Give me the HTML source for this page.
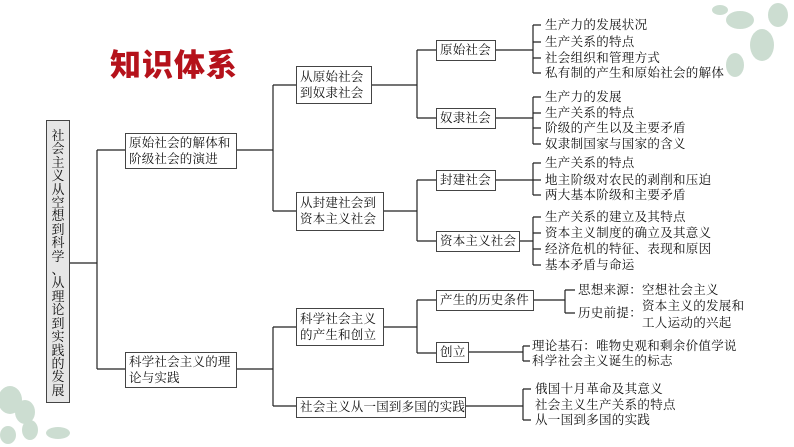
<!DOCTYPE html>
<html><head><meta charset="utf-8"><style>
body{margin:0;width:794px;height:447px;background:#fff;position:relative;overflow:hidden;font-family:"Liberation Serif","Noto Serif CJK SC",serif;color:#111}
.t{position:absolute;font-size:12.5px;line-height:16px;white-space:nowrap;letter-spacing:0.3px}
.b{position:absolute;border:1.5px solid #444;background:#fff;font-size:12.5px;line-height:16px;padding:1px 3px;box-sizing:border-box;white-space:nowrap;letter-spacing:0.2px;overflow:hidden}
</style></head><body>
<svg width="794" height="447" style="position:absolute;left:0;top:0">
<g fill="#8fb59a" opacity="0.45">
<ellipse cx="740" cy="20" rx="14" ry="9"/><ellipse cx="762" cy="45" rx="12" ry="16"/><ellipse cx="778" cy="15" rx="10" ry="12"/><ellipse cx="735" cy="65" rx="9" ry="12"/><ellipse cx="720" cy="10" rx="8" ry="5"/>
<ellipse cx="10" cy="400" rx="12" ry="14"/><ellipse cx="25" cy="412" rx="10" ry="12"/><ellipse cx="30" cy="430" rx="8" ry="10"/><ellipse cx="58" cy="433" rx="12" ry="6"/><ellipse cx="8" cy="435" rx="8" ry="9"/>
</g>
<g stroke="#222" stroke-width="1.2" fill="none">
<path d="M70 263H97M97 150V369M97 150H125M97 369H125"/>
<path d="M237 150H273M273 85V211M273 85H296M273 211H296"/>
<path d="M371 85H417M417 50V118M417 50H436M417 118H436"/>
<path d="M496 50H533M533 25V73M533 25H541M533 42H541M533 58H541M533 73H541"/>
<path d="M496 118H533M533 97V144M533 97H541M533 113H541M533 128H541M533 144H541"/>
<path d="M383 211H417M417 180V241M417 180H436M417 241H436"/>
<path d="M496 180H533M533 163V195M533 163H541M533 180H541M533 195H541"/>
<path d="M520 241H533M533 217V265M533 217H541M533 233H541M533 249H541M533 265H541"/>
<path d="M237 369H273M273 327V406M273 327H296M273 406H296"/>
<path d="M383 327H417M417 300V353M417 300H436M417 353H436"/>
<path d="M534 300H565M565 290V313M565 290H575M565 313H575"/>
<path d="M469 352H523M523 346V361M523 346H530M523 361H530"/>
<path d="M466 406H523M523 389V420M523 389H531M523 420H531"/>
</g>
</svg>
<div style="position:absolute;left:110px;top:40px;font-family:'Liberation Sans','Noto Sans CJK SC',sans-serif;font-weight:900;font-size:31px;color:#b5121b;letter-spacing:1px">知识体系</div>
<div style="position:absolute;left:46px;top:120px;width:24px;height:283px;box-sizing:border-box;border:1.5px solid #444;background:#e6e6e6;font-size:13px;line-height:13.4px;text-align:center;padding-top:8px">社<br>会<br>主<br>义<br>从<br>空<br>想<br>到<br>科<br>学<br>、<br>从<br>理<br>论<br>到<br>实<br>践<br>的<br>发<br>展</div>
<div class="b" style="left:125px;top:133px;width:112px;height:36px">原始社会的解体和<br>阶级社会的演进</div>
<div class="b" style="left:125px;top:352px;width:112px;height:36px">科学社会主义的理<br>论与实践</div>
<div class="b" style="left:296px;top:66px;width:76px;height:38px;padding-top:2px">从原始社会<br>到奴隶社会</div>
<div class="b" style="left:296px;top:192px;width:88px;height:39px;padding-top:2px">从封建社会到<br>资本主义社会</div>
<div class="b" style="left:296px;top:308px;width:88px;height:38px;padding-top:2px">科学社会主义<br>的产生和创立</div>
<div class="b" style="left:296px;top:397px;width:170px;height:21px">社会主义从一国到多国的实践</div>
<div class="b" style="left:436px;top:40px;width:60px;height:21px">原始社会</div>
<div class="b" style="left:436px;top:108px;width:60px;height:21px">奴隶社会</div>
<div class="b" style="left:436px;top:170px;width:60px;height:21px">封建社会</div>
<div class="b" style="left:436px;top:231px;width:84px;height:21px">资本主义社会</div>
<div class="b" style="left:436px;top:290px;width:98px;height:21px">产生的历史条件</div>
<div class="b" style="left:436px;top:342px;width:33px;height:21px">创立</div>
<div class="t" style="left:545px;top:17px">生产力的发展状况</div>
<div class="t" style="left:545px;top:34px">生产关系的特点</div>
<div class="t" style="left:545px;top:50px">社会组织和管理方式</div>
<div class="t" style="left:545px;top:65px">私有制的产生和原始社会的解体</div>
<div class="t" style="left:545px;top:89px">生产力的发展</div>
<div class="t" style="left:545px;top:105px">生产关系的特点</div>
<div class="t" style="left:545px;top:120px">阶级的产生以及主要矛盾</div>
<div class="t" style="left:545px;top:136px">奴隶制国家与国家的含义</div>
<div class="t" style="left:545px;top:155px">生产关系的特点</div>
<div class="t" style="left:545px;top:172px">地主阶级对农民的剥削和压迫</div>
<div class="t" style="left:545px;top:187px">两大基本阶级和主要矛盾</div>
<div class="t" style="left:545px;top:209px">生产关系的建立及其特点</div>
<div class="t" style="left:545px;top:225px">资本主义制度的确立及其意义</div>
<div class="t" style="left:545px;top:241px">经济危机的特征、表现和原因</div>
<div class="t" style="left:545px;top:257px">基本矛盾与命运</div>
<div class="t" style="left:578px;top:282px">思想来源：空想社会主义</div>
<div class="t" style="left:578px;top:305px">历史前提：</div>
<div class="t" style="left:642px;top:298px">资本主义的发展和</div>
<div class="t" style="left:642px;top:315px">工人运动的兴起</div>
<div class="t" style="left:532px;top:338px">理论基石：唯物史观和剩余价值学说</div>
<div class="t" style="left:532px;top:353px">科学社会主义诞生的标志</div>
<div class="t" style="left:535px;top:381px">俄国十月革命及其意义</div>
<div class="t" style="left:535px;top:397px">社会主义生产关系的特点</div>
<div class="t" style="left:535px;top:412px">从一国到多国的实践</div>
</body></html>
